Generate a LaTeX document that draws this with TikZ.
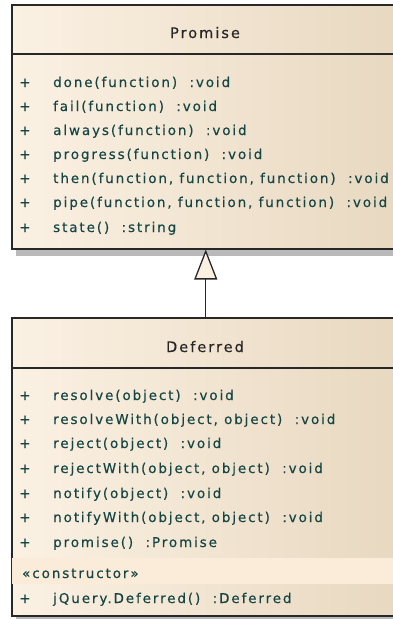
\documentclass[tikz,border=0pt]{standalone}
\usepackage{fontspec}
\usetikzlibrary{arrows.meta}
\newfontfamily\umlfont{DejaVu Sans}[LetterSpace=14, FakeBold=0.35]

\definecolor{creamL}{RGB}{251,241,227}
\definecolor{creamR}{RGB}{232,216,192}
\definecolor{bandcol}{RGB}{250,236,216}
\definecolor{edgecol}{RGB}{40,40,40}
\definecolor{opcol}{RGB}{22,70,68}
\definecolor{shadowcol}{RGB}{185,185,185}

\tikzset{
  classbox/.style={draw=edgecol, line width=1.5pt, left color=creamL, right color=creamR,
    shading angle=90, anchor=north west, inner sep=0pt, minimum width=388pt},
  umltext/.style={inner sep=0pt, font=\umlfont\fontsize{13.5}{16}\selectfont},
  classname/.style={inner sep=0pt, font=\umlfont\fontsize{14.5}{17}\selectfont, anchor=base, text=black!85},
  op/.style={umltext, anchor=base west, text=opcol},
  vis/.style={umltext, anchor=base, text=opcol},
  sep/.style={draw=edgecol, line width=1.3pt},
  shadowbar/.style={fill=shadowcol},
  generalize/.style={draw=edgecol, line width=1.3pt,
    -{Triangle[length=30pt, width=23pt, fill=creamL]}},
}

\begin{document}
\begin{tikzpicture}[x=1pt, y=-1pt]
\useasboundingbox (0,0) rectangle (393,619);
\clip (0,0) rectangle (393,619);

% drop shadows
\fill[shadowbar] (16,249) rectangle (404,256);
\fill[shadowbar] (16,616) rectangle (404,623);

% class Promise
\node[classbox, minimum height=244pt] (promise) at (11,4) {};
\draw[sep] (11,54) -- (399,54);
\node[classname] (ptitle) at (205,38) {Promise};
\foreach \y/\txt [count=\i] in {
  87/{done(function)\ \ :void},
  111/{fail(function)\ \ :void},
  135/{always(function)\ \ :void},
  159/{progress(function)\ \ :void},
  183/{then(function, function, function)\ \ :void},
  207/{pipe(function, function, function)\ \ :void},
  232/{state()\ \ :string}} {
  \node[vis] (pv\i) at (25,\y) {+};
  \node[op] (pop\i) at (53,\y) {\txt};
}

% class Deferred
\node[classbox, minimum height=298pt] (deferred) at (11,317) {};
\draw[sep] (11,368) -- (399,368);
\fill[bandcol] (12,558) rectangle (398,584);
\node[classname] (dtitle) at (205,352) {Deferred};
\foreach \y/\txt [count=\i] in {
  400/{resolve(object)\ \ :void},
  424/{resolveWith(object, object)\ \ :void},
  448/{reject(object)\ \ :void},
  473/{rejectWith(object, object)\ \ :void},
  498/{notify(object)\ \ :void},
  522/{notifyWith(object, object)\ \ :void},
  547/{promise()\ \ :Promise},
  603/{jQuery.Deferred()\ \ :Deferred}} {
  \node[vis] (dv\i) at (25,\y) {+};
  \node[op] (dop\i) at (53,\y) {\txt};
}
\node[op] (stereo) at (22,578) {«constructor»};

% generalization
\draw[generalize] (deferred.north) -- (promise.south);
\end{tikzpicture}
\end{document}
